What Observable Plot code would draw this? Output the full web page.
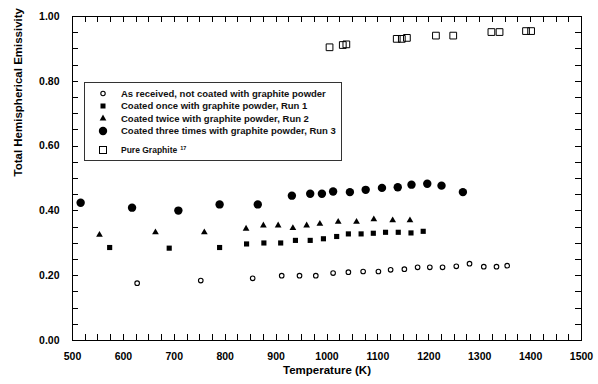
<!DOCTYPE html>
<html><head><meta charset="utf-8">
<script src="https://cdn.jsdelivr.net/npm/d3@7"></script>
<script src="https://cdn.jsdelivr.net/npm/@observablehq/plot@0.6"></script>
<style>
body{margin:0;background:#fff;}
#chart{position:relative;width:598px;height:384px;}
</style>
</head><body><div id="chart"></div>
<script>
// ---- data ----
const xTickLabels = [500,600,700,800,900,1000,1100,1200,1300,1400,1500];
const yTickLabels = [0,0.2,0.4,0.6,0.8,1.0];

const asReceivedT = [627,752,854,911,946,978,1012,1042,1071,1101,1125,1152,1178,1202,1227,1254,1280,1308,1333,1354];
const asReceivedE = [0.177,0.185,0.192,0.200,0.200,0.200,0.208,0.211,0.213,0.213,0.218,0.220,0.226,0.226,0.226,0.229,0.237,0.228,0.228,0.231];

const run1T = [573,690,789,842,876,909,938,967,993,1019,1042,1067,1091,1115,1140,1165,1189];
const run1E = [0.287,0.285,0.287,0.298,0.301,0.301,0.309,0.309,0.314,0.321,0.329,0.329,0.331,0.334,0.334,0.332,0.337];

const run2T = [553,663,759,841,875,904,933,960,986,1022,1058,1092,1129,1163];
const run2E = [0.326,0.334,0.334,0.345,0.355,0.355,0.347,0.355,0.360,0.366,0.366,0.374,0.371,0.371];

const run3T = [516,617,708,789,864,931,967,990,1012,1045,1076,1108,1139,1166,1197,1225,1267];
const run3E = [0.425,0.410,0.401,0.420,0.420,0.447,0.453,0.453,0.460,0.458,0.465,0.471,0.473,0.481,0.484,0.478,0.458];

const graphiteT = [1005,1031,1038,1137,1147,1157,1214,1248,1323,1339,1391,1401];
const graphiteE = [0.905,0.912,0.914,0.931,0.931,0.934,0.941,0.941,0.952,0.952,0.955,0.955];

const legendLabels = [
  "As received, not coated with graphite powder",
  "Coated once with graphite powder, Run 1",
  "Coated twice with graphite powder, Run 2",
  "Coated three times with graphite powder, Run 3",
  "Pure Graphite"
];
const xTitle = "Temperature (K)";
const yTitle = "Total Hemispherical Emissivity";

// ---- build ----
const zip = (T,E) => T.map((t,i)=>({t, e:E[i]}));
const asReceived = zip(asReceivedT, asReceivedE);
const run1 = zip(run1T, run1E);
const run2 = zip(run2T, run2E);
const run3 = zip(run3T, run3E);
const graphite = zip(graphiteT, graphiteE);

const W=598, H=384, mL=72, mR=17, mT=16, mB=44;
const xMinor = d3.range(500, 1501, 25);
const yMinor = d3.range(0, 20.5, 1).map(i => i * 0.05);
const font = "'Liberation Sans', Arial, sans-serif";
const TL = 6; // inward tick length

const chart = Plot.plot({
  width: W, height: H,
  marginLeft: mL, marginRight: mR, marginTop: mT, marginBottom: mB,
  style: {fontFamily: font, fontWeight: "bold", color: "#000", background: "#fff"},
  x: {domain: [500, 1500]},
  y: {domain: [0, 1]},
  marks: [
    Plot.axisX({ticks: xTickLabels, tickSize: 0, tickPadding: 12, fontSize: 10.5, tickFormat: d => String(d), label: null}),
    Plot.axisY({ticks: yTickLabels, tickSize: 0, tickPadding: 13, fontSize: 10.5, tickFormat: d => d.toFixed(2), label: null}),
    Plot.frame({stroke: "#000", strokeWidth: 1}),
    // axis titles
    Plot.text([xTitle], {text: d => d, frameAnchor: "bottom", dy: 33, fontSize: 11.5, fontWeight: "bold", fill: "#000"}),
    Plot.text([yTitle], {text: d => d, frameAnchor: "left", rotate: -90, dx: -54, dy: -2, fontSize: 11.5, fontWeight: "bold", fill: "#000"}),
    // data
    Plot.dot(asReceived, {x: "t", y: "e", r: 2.3, stroke: "#000", fill: "#fff", strokeWidth: 1.1}),
    Plot.dot(run1, {x: "t", y: "e", symbol: "square", r: 2.9, fill: "#000"}),
    Plot.dot(run2, {x: "t", y: "e", symbol: "triangle", r: 2.5, fill: "#000"}),
    Plot.dot(run3, {x: "t", y: "e", r: 4.2, fill: "#000"}),
    Plot.dot(graphite, {x: "t", y: "e", symbol: "square", r: 3.8, stroke: "#000", fill: "none", strokeWidth: 1})
  ]
});
document.getElementById("chart").appendChild(chart);

const svg = d3.select(chart);
const sxScale = chart.scale("x"), syScale = chart.scale("y");
const X = v => sxScale.apply(v), Y = v => syScale.apply(v);
const x0 = X(500), x1 = X(1500), y0 = Y(0), y1 = Y(1);

// ---- inward ticks on all four sides (positions from the Plot scales) ----
const tg = svg.append("g").attr("stroke", "#000").attr("stroke-width", 1);
xMinor.forEach(v => {
  const x = Math.round(X(v)) + 0.5;
  tg.append("line").attr("x1", x).attr("x2", x).attr("y1", y0).attr("y2", y0 - TL);
  tg.append("line").attr("x1", x).attr("x2", x).attr("y1", y1).attr("y2", y1 + TL);
});
yMinor.forEach(v => {
  const y = Math.round(Y(v)) + 0.5;
  tg.append("line").attr("y1", y).attr("y2", y).attr("x1", x0).attr("x2", x0 + TL);
  tg.append("line").attr("y1", y).attr("y2", y).attr("x1", x1).attr("x2", x1 - TL);
});

// ---- legend (inside the plot frame) ----
const lg = svg.append("g").attr("font-family", font).attr("font-weight", "bold").attr("text-anchor", "start");
lg.append("rect").attr("x", 84.5).attr("y", 82.5).attr("width", 257).attr("height", 78)
  .attr("fill", "#fff").attr("stroke", "#333").attr("stroke-width", 1);
const rows = [93.5, 106, 118.5, 131, 150];
const sx = 103;
lg.append("circle").attr("cx", sx).attr("cy", rows[0]).attr("r", 2.2).attr("fill", "#fff").attr("stroke", "#000").attr("stroke-width", 1.1);
lg.append("rect").attr("x", sx-2.5).attr("y", rows[1]-2.5).attr("width", 5).attr("height", 5).attr("fill", "#000");
lg.append("path").attr("d", d3.symbol(d3.symbolTriangle, Math.PI*2.5*2.5)()).attr("transform", `translate(${sx},${rows[2]})`).attr("fill", "#000");
lg.append("circle").attr("cx", sx).attr("cy", rows[3]).attr("r", 4.2).attr("fill", "#000");
lg.append("rect").attr("x", sx-3.5).attr("y", rows[4]-3.5).attr("width", 7).attr("height", 7).attr("fill", "none").attr("stroke", "#000");
legendLabels.forEach((s, i) => {
  const t = lg.append("text").attr("x", 121).attr("y", rows[i]).attr("dy", "0.35em")
    .attr("text-anchor", "start")
    .attr("font-size", i === 4 ? 8.5 : 9.5).attr("fill", "#111").text(s);
  if (i === 4) {
    t.append("tspan").attr("dx", 3).attr("dy", "-0.6em").attr("font-size", 5.5).text("17");
  }
});
</script>
</body></html>
